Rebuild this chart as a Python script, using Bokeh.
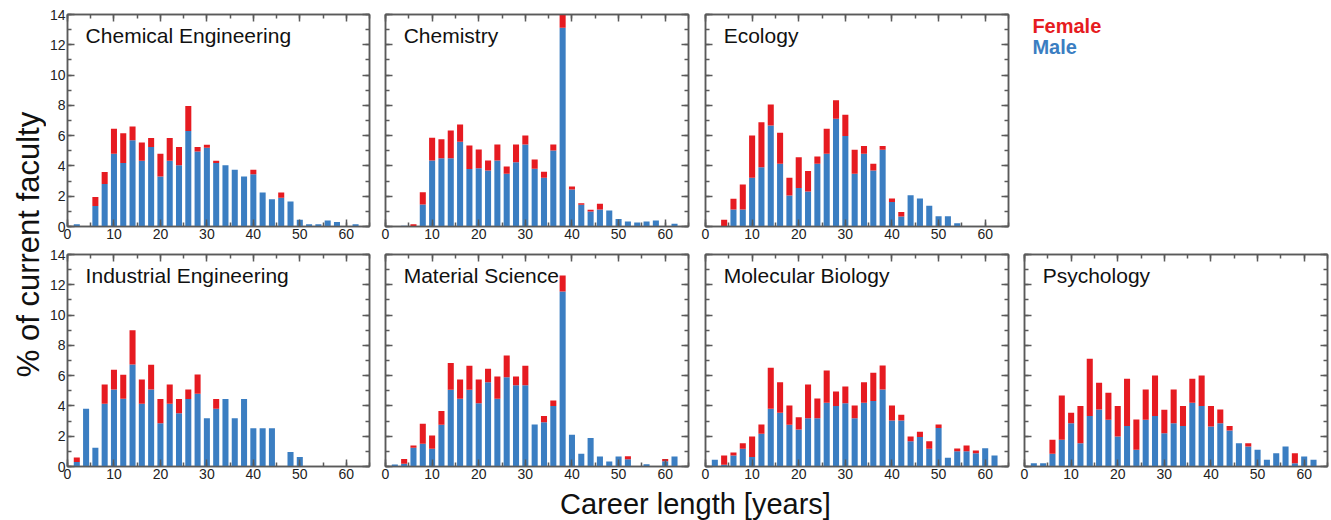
import math
from bokeh.plotting import figure
from bokeh.models import Range1d, LinearAxis, SingleIntervalTicker, Label, ColumnDataSource
from bokeh.layouts import row, column
from bokeh.embed import file_html
from bokeh.resources import INLINE

# ---------------- data ----------------
career_years = list(range(2, 63, 2))
x_ticks_interval = 10
y_ticks_interval = 2

fields = ["Chemical Engineering", "Chemistry", "Ecology",
          "Industrial Engineering", "Material Science", "Molecular Biology", "Psychology"]

male_chem_eng = [0.15, 0, 1.35, 2.8, 4.8, 4.2, 5.7, 4.35, 5.25, 3.3, 4.35, 4.05, 6.3, 4.95, 5.2, 4.2,
                 4.05, 3.75, 3.3, 3.45, 2.25, 1.8, 1.9, 1.65, 0.45, 0.15, 0.15, 0.4, 0.3, 0, 0.15]
female_chem_eng = [0, 0, 0.6, 0.8, 1.65, 1.95, 0.9, 1.2, 0.6, 1.5, 1.5, 1.2, 1.65, 0.3, 0.2, 0.15,
                   0, 0, 0, 0.3, 0, 0, 0.35, 0, 0, 0, 0, 0, 0, 0, 0]

male_chemistry = [0, 0.05, 0, 1.45, 4.36, 4.5, 4.5, 5.6, 3.8, 3.85, 3.7, 4.36, 3.48, 4.25, 5.42, 3.81,
                  3.22, 5.02, 13.13, 2.44, 1.43, 0.99, 1.12, 1.06, 0.5, 0.33, 0.26, 0.33, 0.4, 0, 0.18]
female_chemistry = [0, 0, 0.15, 0.82, 1.5, 1.27, 1.84, 1.14, 1.55, 1.24, 0.66, 1.06, 0.48, 1.17, 0.59, 0.62,
                    0.39, 0.4, 1.2, 0.2, 0.11, 0.11, 0.38, 0, 0, 0, 0, 0, 0, 0, 0]

male_ecology = [0, 0, 1.12, 1.12, 3.22, 3.92, 6.67, 4.14, 2.05, 2.55, 2.31, 4.14, 4.8, 7.11, 5.97, 3.48,
                4.8, 3.7, 5.07, 1.61, 0.66, 2.07, 1.85, 1.37, 0.68, 0.68, 0.22, 0, 0, 0, 0]
female_ecology = [0, 0.44, 0.71, 1.66, 2.79, 2.97, 1.39, 2.05, 1.17, 2.03, 1.35, 0.49, 1.65, 1.22, 1.41, 1.59,
                  0.51, 0.44, 0.24, 0.24, 0.29, 0, 0, 0, 0, 0, 0, 0, 0, 0, 0]

male_ind_eng = [0.29, 3.81, 1.23, 4.14, 5.09, 4.47, 6.74, 4.14, 5.09, 2.86, 4.14, 3.52, 4.45, 4.8, 3.19, 3.81,
                4.45, 3.19, 4.45, 2.53, 2.53, 2.53, 0, 0.95, 0.62, 0, 0, 0, 0, 0, 0]
female_ind_eng = [0.31, 0, 0, 1.28, 1.3, 1.59, 2.25, 1.61, 1.63, 1.59, 1.28, 0.93, 0.64, 1.28, 0, 0.64,
                  0, 0, 0, 0, 0, 0, 0, 0, 0, 0, 0, 0, 0, 0, 0]

male_mat_sci = [0.13, 0.18, 1.23, 1.5, 1.17, 2.75, 5.07, 4.47, 5.07, 4.18, 5.57, 4.47, 5.9, 5.37, 5.37, 2.78,
                2.93, 3.99, 11.56, 2.09, 0.84, 1.89, 0.66, 0.33, 0.66, 0.48, 0, 0.15, 0, 0.35, 0.66]
female_mat_sci = [0, 0.32, 0.16, 1.32, 0.88, 0.91, 1.76, 1.28, 1.58, 1.57, 0.88, 1.48, 1.43, 0.58, 1.28, 0,
                  0.4, 0.37, 1.06, 0, 0, 0, 0, 0, 0, 0.2, 0, 0, 0, 0.15, 0]

male_mol_bio = [0.44, 0.11, 0.73, 1.17, 0.62, 2.16, 3.81, 3.55, 2.75, 2.44, 3.19, 3.19, 4.21, 3.99, 4.18, 3.19,
                4.21, 4.32, 5.09, 3.04, 3.04, 1.67, 1.94, 1.17, 2.55, 0.57, 1.01, 1.01, 0.88, 1.21, 0.73]
female_mol_bio = [0, 0.62, 0.2, 0.37, 1.36, 0.62, 2.71, 2.02, 1.28, 0.82, 2.23, 1.3, 2.13, 0.97, 1.11, 0.84,
                  1.36, 1.87, 1.58, 0.99, 0.37, 0.31, 0.35, 0.5, 0.23, 0, 0.18, 0.38, 0.18, 0, 0]

male_psych = [0.22, 0.22, 0.84, 1.76, 2.86, 1.54, 3.33, 3.77, 3.08, 1.98, 2.67, 1.1, 3.08, 3.33, 2.2, 2.86,
              2.67, 4.21, 3.99, 2.64, 2.86, 2.38, 1.54, 1.32, 1.1, 0.44, 0.88, 1.32, 0.22, 0.66, 0.44]
female_psych = [0, 0, 0.92, 2.93, 0.69, 2.45, 3.78, 1.76, 1.79, 2.01, 3.12, 2.01, 2.01, 2.68, 1.54, 2.23,
                1.32, 1.58, 2.02, 1.35, 0.91, 0.29, 0, 0.22, 0, 0, 0, 0, 0.66, 0, 0]

legend_labels = ["Female", "Male"]
x_title = "Career length [years]"
y_title = "% of current faculty"

# ---------------- style ----------------
BLUE = "#3b7ec2"
RED = "#e61b21"
FONT = "Liberation Sans"
AX = "#5a5a5a"
FRAME_W = 303
FRAME_H = 212


def style_axis(ax, labels):
    ax.axis_line_color = AX
    ax.axis_line_width = 1.5
    ax.major_tick_line_color = AX
    ax.minor_tick_line_color = AX
    ax.major_tick_line_width = 1.5
    ax.minor_tick_line_width = 1.5
    ax.major_tick_in = 7
    ax.major_tick_out = 0
    ax.minor_tick_in = 4
    ax.minor_tick_out = 0
    ax.major_label_text_font = FONT
    ax.major_label_text_font_size = "14px"
    if labels:
        ax.major_label_text_color = "#222222"
        ax.major_label_standoff = 2
    else:
        ax.major_label_text_color = None
        ax.major_label_standoff = 0


def panel(title, male, female, y_labels, b_top, b_bottom, b_left, b_right):
    p = figure(width=b_left + FRAME_W + b_right, height=b_top + FRAME_H + b_bottom,
               x_range=Range1d(0, 65), y_range=Range1d(0, 14), title=None,
               output_backend="svg", toolbar_location=None,
               min_border_left=b_left, min_border_right=b_right,
               min_border_top=b_top, min_border_bottom=b_bottom)
    p.grid.visible = False
    p.outline_line_color = AX
    p.outline_line_width = 1.5
    p.background_fill_color = "white"
    p.border_fill_color = "white"
    src = ColumnDataSource(dict(x=career_years, male=male, female=female))
    p.vbar_stack(["male", "female"], x="x", width=1.3, fill_color=[BLUE, RED],
                 line_color=None, source=src)
    xt = SingleIntervalTicker(interval=x_ticks_interval, num_minor_ticks=2)
    yt = SingleIntervalTicker(interval=y_ticks_interval, num_minor_ticks=2)
    p.xaxis[0].ticker = xt
    p.yaxis[0].ticker = yt
    style_axis(p.xaxis[0], True)
    style_axis(p.yaxis[0], y_labels)
    top = LinearAxis(ticker=xt)
    style_axis(top, False)
    p.add_layout(top, "above")
    right = LinearAxis(ticker=yt)
    style_axis(right, False)
    p.add_layout(right, "right")
    p.add_layout(Label(x=3.9, y=13.4, text=title, text_font=FONT, text_font_size="21px",
                       text_baseline="top", text_align="left", text_color="#111111"))
    return p


def blank(width, height, **kw):
    p = figure(width=width, height=height, x_range=Range1d(0, 1), y_range=Range1d(0, 1),
               title=None, output_backend="svg", toolbar_location=None,
               min_border_left=kw.get("l", 0), min_border_right=kw.get("r", 0),
               min_border_top=kw.get("t", 0), min_border_bottom=kw.get("b", 0))
    p.axis.visible = False
    p.grid.visible = False
    p.outline_line_color = None
    return p


TOP1, BOT1, TOP2, BOT2 = 14, 20, 8, 20

p1 = panel(fields[0], male_chem_eng, female_chem_eng, True, TOP1, BOT1, 20, 8)
p2 = panel(fields[1], male_chemistry, female_chemistry, False, TOP1, BOT1, 8, 8)
p3 = panel(fields[2], male_ecology, female_ecology, False, TOP1, BOT1, 9, 8)

leg = blank(8 + FRAME_W + 2, TOP1 + FRAME_H + BOT1, l=8, r=2, t=TOP1, b=BOT1)
leg.add_layout(Label(x=0.026, y=0.948, text=legend_labels[0], text_font=FONT, text_font_size="20px",
                     text_font_style="bold", text_color=RED, text_baseline="middle"))
leg.add_layout(Label(x=0.026, y=0.849, text=legend_labels[1], text_font=FONT, text_font_size="20px",
                     text_font_style="bold", text_color=BLUE, text_baseline="middle"))

p4 = panel(fields[3], male_ind_eng, female_ind_eng, True, TOP2, BOT2, 20, 8)
p5 = panel(fields[4], male_mat_sci, female_mat_sci, False, TOP2, BOT2, 8, 8)
p6 = panel(fields[5], male_mol_bio, female_mol_bio, False, TOP2, BOT2, 9, 8)
p7 = panel(fields[6], male_psych, female_psych, False, TOP2, BOT2, 8, 2)

col_h = TOP1 + FRAME_H + BOT1 + TOP2 + FRAME_H + BOT2
ytf = blank(46, col_h)
ytf.add_layout(Label(x=28 / 46, y=1 - 244 / col_h, text=y_title, text_font=FONT, text_font_size="31px",
                     angle=math.pi / 2, text_align="center", text_baseline="middle",
                     text_color="#111111"))

total_w = 46 + p1.width + p2.width + p3.width + leg.width
xtf = blank(total_w, 520 - col_h)
xtf.add_layout(Label(x=695 / total_w, y=0.5, text=x_title, text_font=FONT, text_font_size="29px",
                     text_align="center", text_baseline="middle", text_color="#111111"))

layout = column(row(ytf, column(row(p1, p2, p3, leg), row(p4, p5, p6, p7))), xtf)

open("out.html", "w").write(file_html(layout, INLINE))
